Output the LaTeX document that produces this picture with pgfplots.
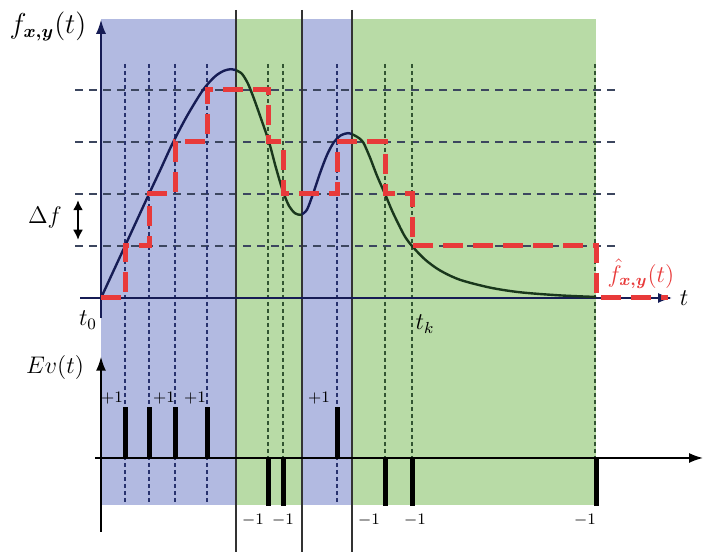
\documentclass[border=0pt]{standalone}
\usepackage{pgfplots}
\pgfplotsset{compat=1.18}
\usepackage{bm}
\usetikzlibrary{arrows.meta}
\definecolor{blueshade}{RGB}{178,186,225}
\definecolor{greenshade}{RGB}{184,219,166}
\definecolor{navy}{RGB}{22,28,85}
\definecolor{dkgreen}{RGB}{25,55,28}
\definecolor{gridc}{RGB}{60,70,95}
\definecolor{vblue}{RGB}{40,50,110}
\definecolor{vgreen}{RGB}{50,85,50}
\definecolor{stepred}{RGB}{232,58,58}
\begin{document}
\begin{tikzpicture}
\begin{axis}[
  scale only axis, width=353pt, height=276pt,
  xmin=0, xmax=706, ymin=-4.8846, ymax=5.7308,
  hide axis, clip=false,
]
% bounding box keeper
\addplot[draw=none, forget plot] coordinates {(0,-4.8846) (706,5.7308)};
% shaded regions
\addplot[fill=blueshade, draw=none] coordinates {(101,5.36) (236,5.36) (236,-3.98) (101,-3.98)} -- cycle;
\addplot[fill=greenshade, draw=none] coordinates {(236,5.36) (302,5.36) (302,-3.98) (236,-3.98)} -- cycle;
\addplot[fill=blueshade, draw=none] coordinates {(302,5.36) (352,5.36) (352,-3.98) (302,-3.98)} -- cycle;
\addplot[fill=greenshade, draw=none] coordinates {(352,5.36) (596,5.36) (596,-3.98) (352,-3.98)} -- cycle;
% horizontal grid
\pgfplotsinvokeforeach{1,2,3,4}{
  \addplot[gridc, line width=0.75pt, dash pattern=on 4pt off 3pt] coordinates {(75,#1) (620,#1)};
}
% vertical dashed lines
\pgfplotsinvokeforeach{125,149,175,207,337}{
  \addplot[vblue, line width=1pt, dash pattern=on 2pt off 1.5pt] coordinates {(#1,4.5) (#1,-3.98)};
}
\pgfplotsinvokeforeach{268,283,385,412,595}{
  \addplot[vgreen, line width=1pt, dash pattern=on 2pt off 1.5pt] coordinates {(#1,4.5) (#1,-3.98)};
}
% solid vertical boundary lines
\pgfplotsinvokeforeach{236,302,352}{
  \addplot[black!80, line width=0.9pt] coordinates {(#1,5.54) (#1,-4.8846)};
}
% axes
\addplot[navy, line width=0.8pt] coordinates {(80,0) (670,0)};
\addplot[navy, line width=0.8pt, -{Latex[length=7pt,width=5pt]}] coordinates {(640,0) (672,0)};
\addplot[navy, line width=0.8pt, -{Latex[length=7pt,width=5pt]}] coordinates {(101,-0.385) (101,5.35)};
\addplot[black, line width=0.8pt, -{Latex[length=7pt,width=5pt]}] coordinates {(95,-3.077) (703,-3.077)};
\addplot[black, line width=0.8pt, -{Latex[length=7pt,width=5pt]}] coordinates {(101,-4.5) (101,-1.13)};
% Delta f arrow
\addplot[black, line width=0.8pt, {Latex[length=5pt,width=5pt]}-{Latex[length=5pt,width=5pt]}] coordinates {(78,1.12) (78,1.88)};
% curve f_{x,y}(t)
\addplot[navy, line width=1.2pt, smooth] coordinates {(101,0) (113,0.5) (125,1) (137,1.5) (149,2) (160,2.45) (172,2.95) (187,3.5) (203,4.0) (215,4.26) (224,4.37) (231,4.4) (236,4.38)};
\addplot[dkgreen, line width=1.2pt, smooth] coordinates {(236,4.38) (242,4.31) (248,4.12) (254,3.83) (261,3.45) (269,3.0) (276,2.5) (283,2.05) (289,1.77) (295,1.63) (300,1.6) (302,1.61)};
\addplot[navy, line width=1.2pt, smooth] coordinates {(302,1.61) (307,1.7) (313,2.0) (320,2.4) (327,2.75) (334,3.0) (341,3.13) (348,3.17) (352,3.15)};
\addplot[dkgreen, line width=1.2pt, smooth] coordinates {(352,3.15) (357,3.1) (363,3.0) (370,2.7) (377,2.35) (385,2.0) (392,1.68) (399,1.4) (405,1.18) (412,1.0) (425,0.74) (440,0.53) (460,0.35) (490,0.2) (520,0.11) (560,0.05) (596,0.02)};
% reconstructed step function
\addplot[stepred, line width=2.5pt, dash pattern=on 10pt off 5pt] coordinates {(101,0) (125,0) (125,1) (149,1) (149,2) (175,2) (175,3) (207,3) (207,4) (268,4) (268,3) (283,3) (283,2) (337,2) (337,3) (385,3) (385,2) (412,2) (412,1) (596,1) (596,0) (668,0)};
% event bars +1
\pgfplotsinvokeforeach{125,149,175,207,337}{
  \addplot[black, line width=2.5pt] coordinates {(#1,-3.077) (#1,-2.1)};
}
% event bars -1
\pgfplotsinvokeforeach{268,283,385,412,596}{
  \addplot[black, line width=2.5pt] coordinates {(#1,-3.077) (#1,-4.0)};
}
% labels
\node at (axis cs:48,5.22) {\fontsize{13.5}{16}\selectfont $f_{\bm{x,y}}(t)$};
\node at (axis cs:45,1.54) {\large $\Delta f$};
\node at (axis cs:88,-0.42) {\large $t_0$};
\node at (axis cs:425,-0.5) {\large $t_k$};
\node at (axis cs:684,0) {\large $t$};
\node[text=stepred] at (axis cs:641,0.46) {\large $\hat{f}_{\bm{x,y}}(t)$};
\node at (axis cs:55,-1.33) {\large $Ev(t)$};
\pgfplotsinvokeforeach{112,164,195,319}{
  \node at (axis cs:#1,-1.92) {\footnotesize $+1$};
}
\pgfplotsinvokeforeach{253,283,369,415,585}{
  \node at (axis cs:#1,-4.27) {\footnotesize $-1$};
}
\end{axis}
\end{tikzpicture}
\end{document}
